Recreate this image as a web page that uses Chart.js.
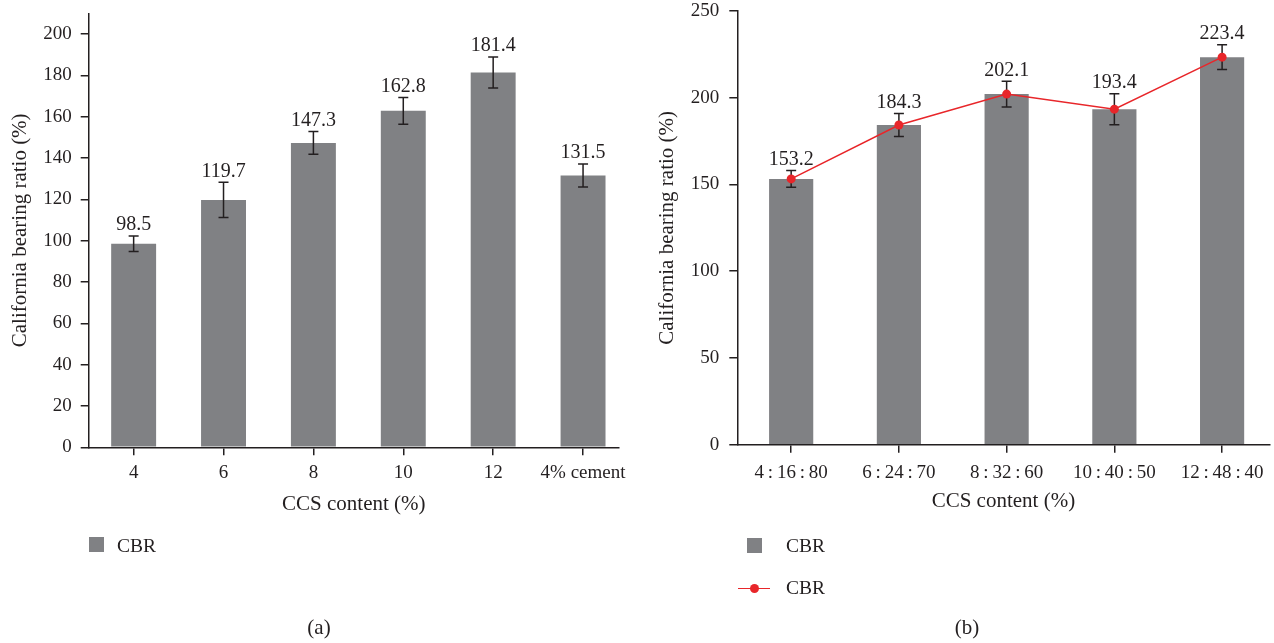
<!DOCTYPE html>
<html>
<head>
<meta charset="utf-8">
<title>California bearing ratio</title>
<script src="https://cdn.jsdelivr.net/npm/chart.js@4.4.1/dist/chart.umd.min.js"></script>
<style>
  html, body { margin: 0; padding: 0; background: #fff; }
  body { width: 1274px; height: 643px; position: relative; overflow: hidden;
         font-family: "Liberation Serif", serif; color: #231f20; }
  .pane { position: absolute; top: 0; }
  .key-text { position: absolute; font-size: 19.5px; line-height: 20px; height: 20px; white-space: nowrap; }
  .swatch { position: absolute; width: 15px; height: 15px; background: #808184; }
  .key-line { position: absolute; height: 1.5px; background: #e8262a; }
  .key-dot { position: absolute; width: 9px; height: 9px; border-radius: 50%; background: #e8262a; }
  .caption { position: absolute; font-size: 21px; line-height: 24px; width: 60px; text-align: center; }
</style>
</head>
<body>
  <canvas id="chartA" class="pane" width="640" height="643" style="left:0"></canvas>
  <canvas id="chartB" class="pane" width="634" height="643" style="left:640px"></canvas>

  <!-- legend of panel (a) -->
  <div class="swatch" style="left:89px; top:537px"></div>
  <div class="key-text" style="left:117px; top:536px">CBR</div>

  <!-- legend of panel (b) -->
  <div class="swatch" style="left:747px; top:538px"></div>
  <div class="key-text" style="left:786px; top:536px">CBR</div>
  <div class="key-line" style="left:738px; top:587.5px; width:32px"></div>
  <div class="key-dot" style="left:749.5px; top:583.5px"></div>
  <div class="key-text" style="left:786px; top:578px">CBR</div>

  <div class="caption" style="left:289px; top:615px">(a)</div>
  <div class="caption" style="left:937px; top:615px">(b)</div>

<script>
// ---- data ----
const ccsContent = ['4', '6', '8', '10', '12', '4% cement'];
const cbrA = [98.5, 119.7, 147.3, 162.8, 181.4, 131.5];
const errA = [3.8, 8.5, 5.5, 6.5, 7.5, 5.6];

const mixRatio = ['4\u2009:\u200916\u2009:\u200980', '6\u2009:\u200924\u2009:\u200970',
                  '8\u2009:\u200932\u2009:\u200960', '10\u2009:\u200940\u2009:\u200950',
                  '12\u2009:\u200948\u2009:\u200940'];
const cbrB = [153.2, 184.3, 202.1, 193.4, 223.4];
const errB = [4.8, 6.6, 7.4, 8.9, 7.1];

const axisTitleX = 'CCS content (%)';
const axisTitleY = 'California bearing ratio (%)';

// ---- style ----
const INK = '#231f20';
const BAR = '#808184';
const RED = '#e8262a';
const FAMILY = '"Liberation Serif", serif';

Chart.defaults.font.family = FAMILY;
Chart.defaults.color = INK;

// error bars (after the bars) and value labels (on top of everything)
const barAnnotations = {
  id: 'barAnnotations',
  afterDatasetDraw(chart, args, opts) {
    if (args.meta.type !== 'bar') return;
    const { ctx, scales: { x, y } } = chart;
    ctx.save();
    ctx.strokeStyle = INK;
    ctx.lineWidth = 1.5;
    ctx.beginPath();
    opts.values.forEach((v, i) => {
      const px = x.getPixelForValue(i);
      const hi = y.getPixelForValue(v + opts.errors[i]);
      const lo = y.getPixelForValue(v - opts.errors[i]);
      ctx.moveTo(px, hi); ctx.lineTo(px, lo);
      ctx.moveTo(px - 5, hi); ctx.lineTo(px + 5, hi);
      ctx.moveTo(px - 5, lo); ctx.lineTo(px + 5, lo);
    });
    ctx.stroke();
    ctx.restore();
  },
  afterDatasetsDraw(chart, args, opts) {
    const { ctx, scales: { x, y } } = chart;
    ctx.save();
    ctx.fillStyle = INK;
    ctx.font = '20px ' + FAMILY;
    ctx.textAlign = 'center';
    ctx.textBaseline = 'alphabetic';
    opts.values.forEach((v, i) => {
      const px = x.getPixelForValue(i);
      const hi = y.getPixelForValue(v + opts.errors[i]);
      ctx.fillText(v.toFixed(1), px, hi - 5.5);
    });
    ctx.restore();
  }
};

function buildChart(canvas, p) {
  const datasets = [{
    type: 'bar',
    label: 'CBR',
    data: p.values.map((v, i) => ({ x: i, y: v })),
    backgroundColor: BAR,
    borderWidth: 0,
    barPercentage: p.barPct,
    categoryPercentage: 1,
    order: 1
  }];
  if (p.line) {
    datasets.push({
      type: 'line',
      label: 'CBR',
      data: p.values.map((v, i) => ({ x: i, y: v })),
      borderColor: RED,
      borderWidth: 1.5,
      pointRadius: 4.5,
      pointBackgroundColor: RED,
      pointBorderWidth: 0,
      tension: 0,
      order: 0
    });
  }
  return new Chart(canvas, {
    data: { datasets },
    plugins: [barAnnotations],
    options: {
      responsive: false,
      animation: false,
      devicePixelRatio: 1,
      events: [],
      layout: { padding: p.padding },
      plugins: {
        legend: { display: false },
        tooltip: { enabled: false },
        barAnnotations: { values: p.values, errors: p.errors }
      },
      scales: {
        x: {
          type: 'linear',
          min: -0.5,
          max: p.xMax,
          offset: false,
          grid: { display: true, drawOnChartArea: false, drawTicks: true, tickLength: 8,
                  color: INK, lineWidth: 1.5, offset: false },
          border: { display: true, color: INK, width: 1.5 },
          ticks: {
            stepSize: 1, includeBounds: false, autoSkip: false, maxRotation: 0,
            padding: p.xTickPad, color: INK, font: { size: 19 },
            callback: v => Number.isInteger(v) ? (p.labels[v] ?? '') : ''
          },
          title: { display: true, text: axisTitleX, color: INK, font: { size: 21 },
                   padding: { top: 0, bottom: p.xTitlePad } },
          afterFit: s => { s.height = 70; s.paddingLeft = 0; s.paddingRight = 0; }
        },
        y: {
          type: 'linear',
          min: 0,
          max: p.yMax,
          grid: { display: true, drawOnChartArea: false, drawTicks: true, tickLength: 8,
                  color: INK, lineWidth: 1.5 },
          border: { display: true, color: INK, width: 1.5 },
          ticks: { stepSize: p.yStep, includeBounds: false, padding: p.yTickPad,
                   color: INK, font: { size: 19 } },
          title: { display: true, text: axisTitleY, color: INK, font: { size: 21 },
                   padding: { top: p.yTitlePad, bottom: 0 } },
          afterFit: s => { s.width = p.yWidth; s.paddingTop = 0; s.paddingBottom = 0; }
        }
      }
    }
  });
}

// panel (a): CCS content
buildChart(document.getElementById('chartA'), {
  labels: ccsContent, values: cbrA, errors: errA, line: false,
  barPct: 0.5, xMax: 5.4, yMax: 210, yStep: 20,
  padding: { left: 0, top: 13.3, right: 21, bottom: 125.7 },
  yWidth: 88.7, yTickPad: 9, yTitlePad: 7.4, xTickPad: 6.6, xTitlePad: 0
});

// panel (b): mix ratio
buildChart(document.getElementById('chartB'), {
  labels: mixRatio, values: cbrB, errors: errB, line: true,
  barPct: 0.41, xMax: 4.44, yMax: 250, yStep: 50,
  padding: { left: 0, top: 11, right: 4, bottom: 128.3 },
  yWidth: 97.3, yTickPad: 10, yTitlePad: 14.9, xTickPad: 9.2, xTitlePad: 0.4
});
</script>
</body>
</html>
